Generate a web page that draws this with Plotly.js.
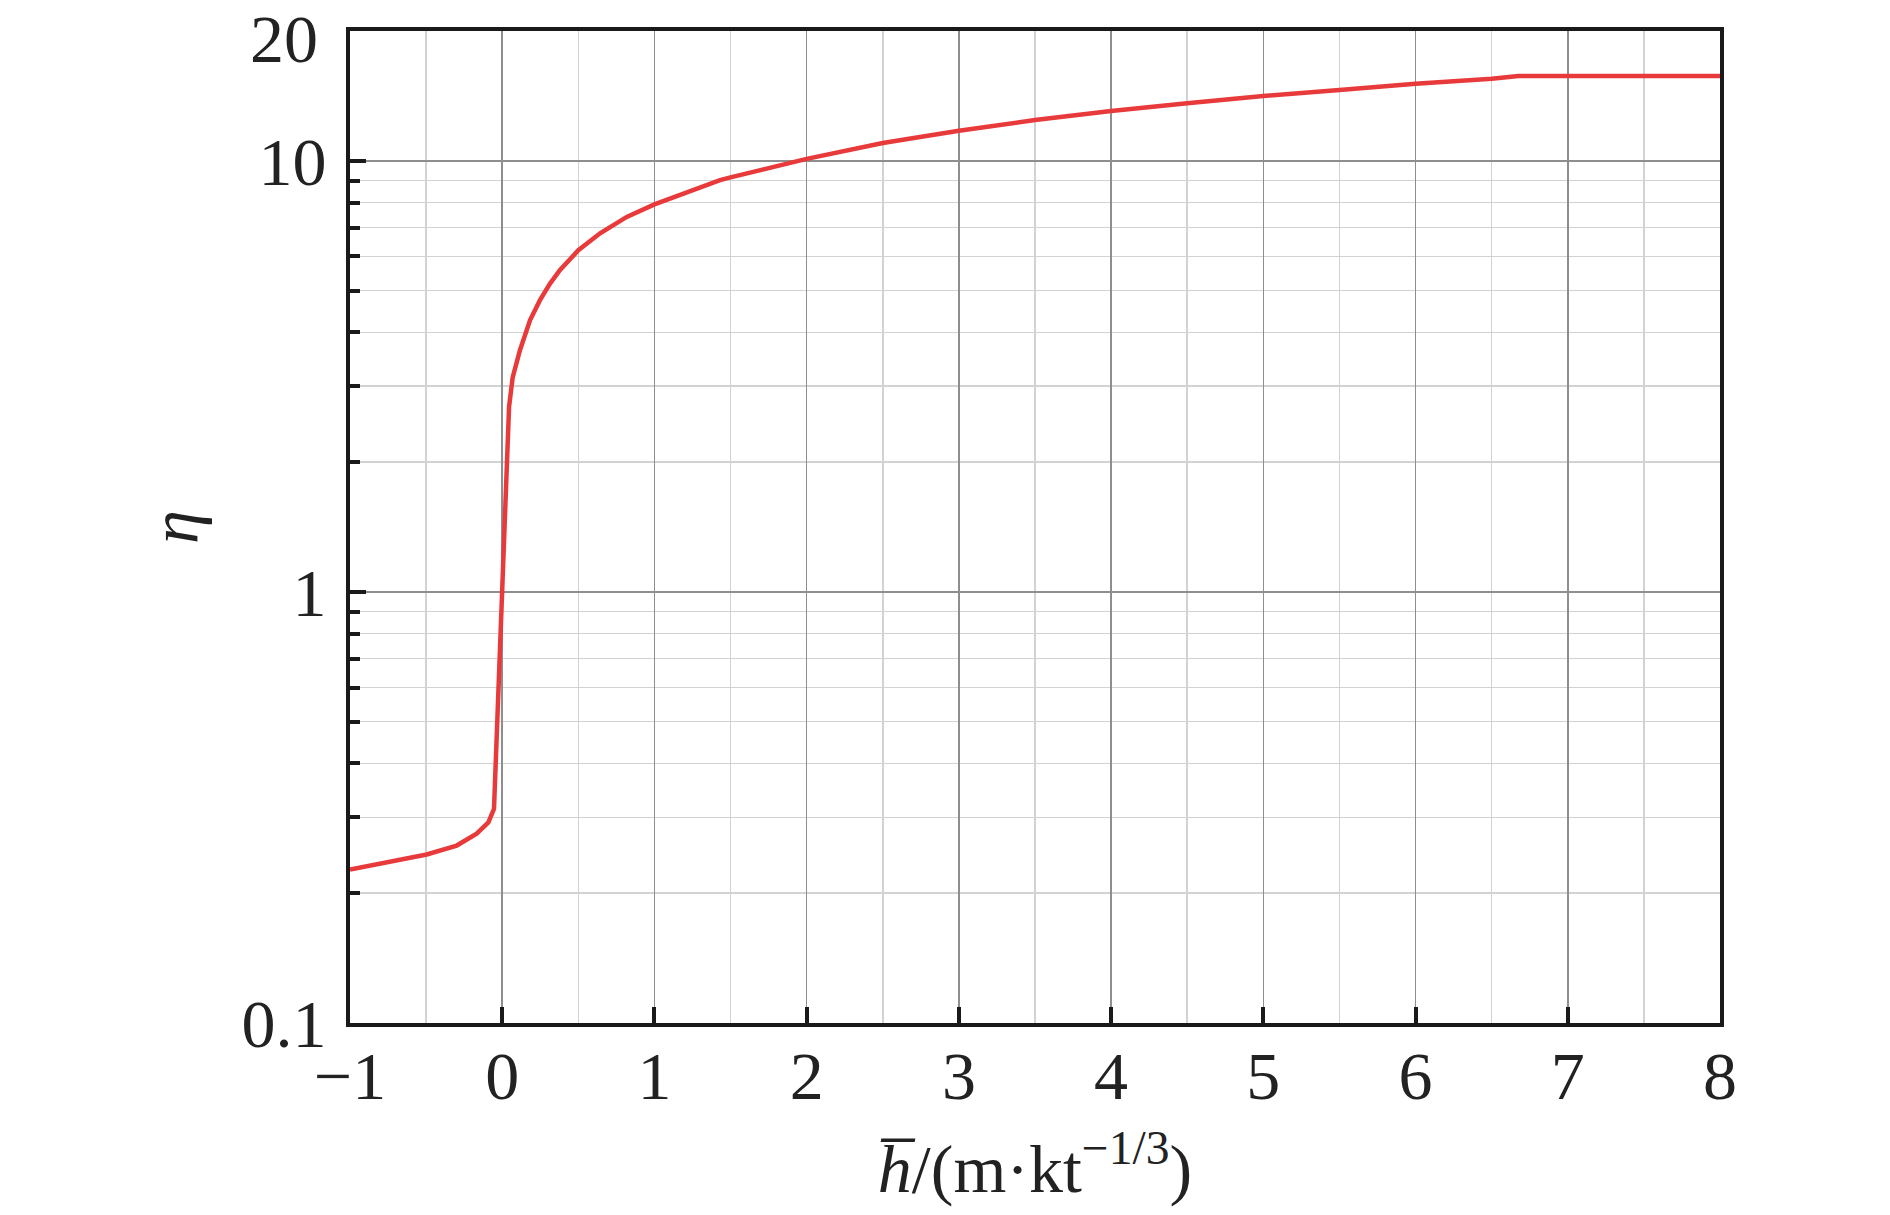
<!DOCTYPE html>
<html>
<head>
<meta charset="utf-8">
<script src="https://cdn.plot.ly/plotly-3.0.1.min.js"></script>
<style>html,body{margin:0;padding:0;background:#fff;}#chart{width:1890px;height:1215px;}</style>
</head>
<body>
<div id="chart"></div>
<script>
// Data
const hBar = [-1, -0.737, -0.496, -0.299, -0.168, -0.091, -0.054, 0.045, 0.069, 0.117, 0.183, 0.248, 0.314, 0.38, 0.5, 0.643, 0.818, 1.0, 1.212, 1.431, 1.5, 2.0, 2.5, 3.0, 3.5, 4.0, 4.5, 5.0, 5.5, 6.0, 6.5, 6.676, 7.0, 7.5, 8.0];
const eta  = [0.227, 0.236, 0.246, 0.258, 0.275, 0.292, 0.314, 2.69, 3.15, 3.64, 4.27, 4.75, 5.19, 5.58, 6.2, 6.79, 7.41, 7.92, 8.47, 9.02, 9.15, 10.1, 11.0, 11.74, 12.43, 13.04, 13.59, 14.13, 14.59, 15.09, 15.5, 15.73, 15.73, 15.73, 15.73];

const xTickVals = [-1, 0, 1, 2, 3, 4, 5, 6, 7, 8];
const xTickText = ['\u22121', '0', '1', '2', '3', '4', '5', '6', '7', '8'];
const xMinorVals = [-0.5, 0.5, 1.5, 2.5, 3.5, 4.5, 5.5, 6.5, 7.5];
const yTickVals = [0.1, 1, 10];
const yTickText = ['0.1', '1', '10'];
const yTopTick = 20;
const yTopText = '20';
const yMinorVals = [0.2, 0.3, 0.4, 0.5, 0.6, 0.7, 0.8, 0.9, 2, 3, 4, 5, 6, 7, 8, 9];

const fontFam = '"Liberation Serif", "Times New Roman", serif';
const txt = '#222222';
const fs = 68;

const trace = {
  x: hBar, y: eta, type: 'scatter', mode: 'lines',
  line: {color: 'rgb(232,58,58)', width: 4.5},
  hoverinfo: 'x+y', showlegend: false
};

const layout = {
  width: 1890, height: 1215,
  margin: {l: 350, r: 170, t: 31, b: 192},
  paper_bgcolor: '#ffffff', plot_bgcolor: '#ffffff',
  font: {family: fontFam, size: fs, color: txt},
  showlegend: false,
  xaxis: {
    range: [-1, 8], autorange: false,
    tickmode: 'array', tickvals: xTickVals, ticktext: xTickText,
    ticks: 'inside', ticklen: 16, tickwidth: 4, tickcolor: '#1a1a1a',
    showline: true, linecolor: '#1a1a1a', linewidth: 4, mirror: true,
    showgrid: true, gridcolor: '#8e8e8e', gridwidth: 1.5,
    zeroline: false,
    tickfont: {family: fontFam, size: fs, color: txt},
    ticklabelstandoff: -10,
    minor: {tickmode: 'array', tickvals: xMinorVals, ticks: '', showgrid: true, gridcolor: '#d2d2d2', gridwidth: 1.5},
    title: {text: '<i>h\u0305</i>/(m\u00b7kt<sup>\u22121/3</sup>)', font: {family: fontFam, size: fs, color: txt}, standoff: 33}
  },
  yaxis: {
    type: 'log', range: [-1, Math.log10(20)], autorange: false,
    tickmode: 'array', tickvals: yTickVals, ticktext: yTickText,
    ticks: 'inside', ticklen: 16, tickwidth: 4, tickcolor: '#1a1a1a',
    showline: true, linecolor: '#1a1a1a', linewidth: 4, mirror: true,
    showgrid: true, gridcolor: '#8e8e8e', gridwidth: 1.5,
    zeroline: false,
    tickfont: {family: fontFam, size: fs, color: txt},
    ticklabelstandoff: 6,
    minor: {tickmode: 'array', tickvals: yMinorVals, ticks: 'inside', ticklen: 10, tickwidth: 4, tickcolor: '#1a1a1a', showgrid: true, gridcolor: '#d2d2d2', gridwidth: 1.5},
    title: {text: '<i>\u03b7</i>', font: {family: fontFam, size: fs, color: txt}, standoff: 22}
  },
  annotations: [{
    text: yTopText, xref: 'paper', x: 0, yref: 'y', y: Math.log10(yTopTick),
    xanchor: 'right', yanchor: 'middle', xshift: -30, yshift: -8,
    showarrow: false,
    font: {family: fontFam, size: fs, color: txt}
  }]
};

Plotly.newPlot('chart', [trace], layout, {staticPlot: true, displayModeBar: false});
</script>
</body>
</html>
